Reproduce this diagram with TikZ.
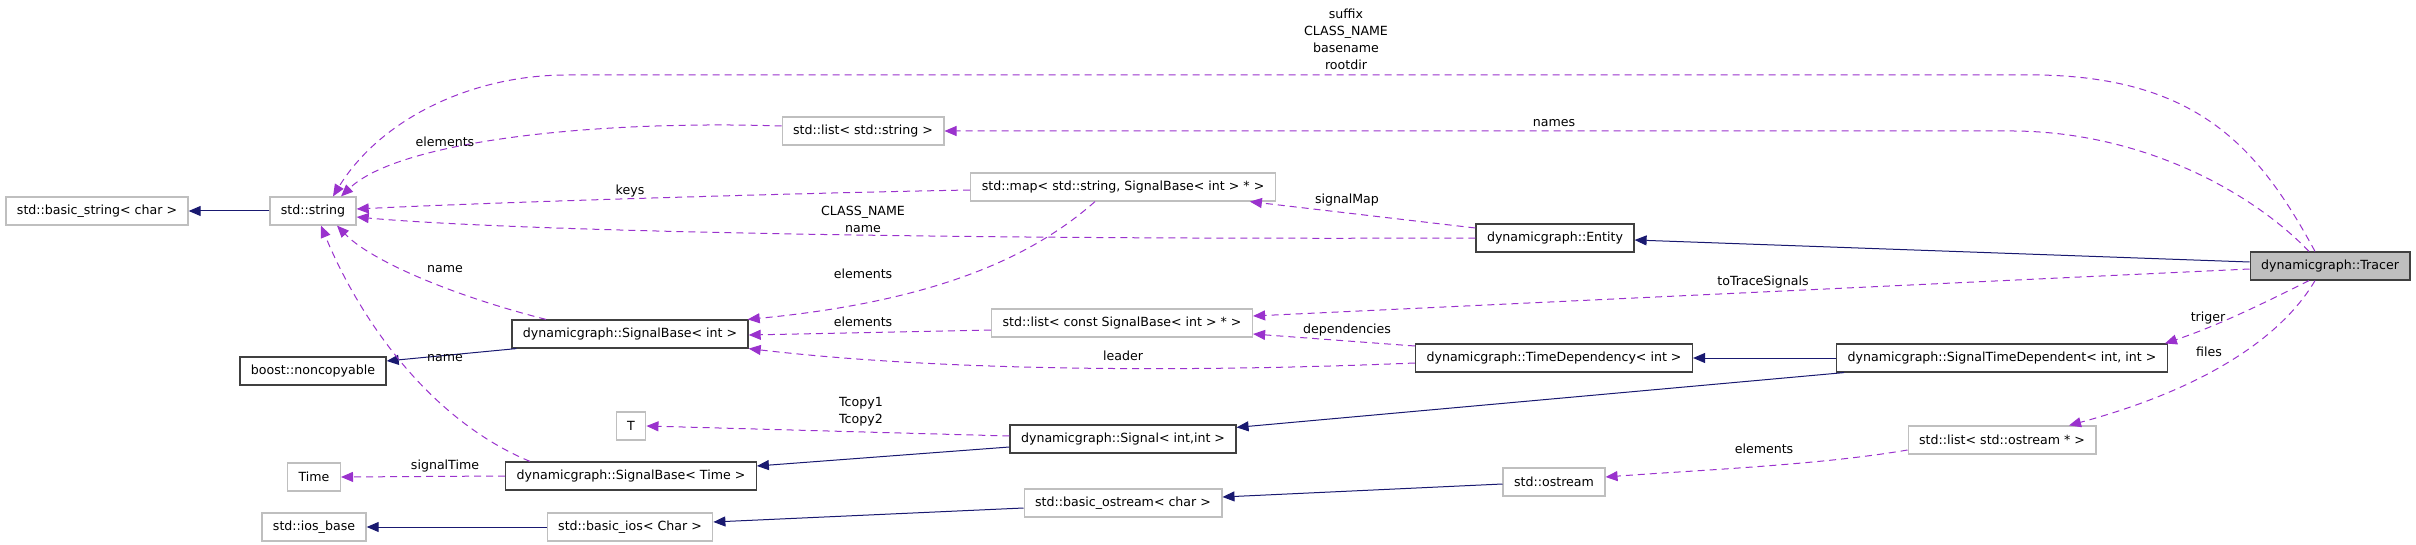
\documentclass[tikz,border=0pt]{standalone}
\usepackage{fontspec}
\setmainfont{DejaVu Sans}
\usetikzlibrary{arrows.meta}
\definecolor{inh}{HTML}{191970}
\definecolor{usec}{HTML}{9A32CD}
\definecolor{gbox}{HTML}{BFBFBF}
\definecolor{dbox}{HTML}{404040}
\tikzset{
 cls/.style={draw=dbox, line width=1.2pt, minimum height=28pt, inner xsep=11pt, inner ysep=0pt, font=\fontsize{12.6}{15}\selectfont, fill=white},
 ext/.style={cls, draw=gbox},
 inhe/.style={draw=inh, line width=1.0pt, -{Triangle[length=12pt,width=10pt]}},
 usee/.style={draw=usec, line width=1.0pt, dash pattern=on 7pt off 5pt, -{Triangle[length=12pt,width=10pt]}},
 lbl/.style={font=\fontsize{12.6}{17}\selectfont, align=center, inner sep=0pt}
}
\begin{document}
\begin{tikzpicture}[x=1pt,y=-1pt]
\useasboundingbox (0,0) rectangle (2416,545);
% nodes
\node[ext] (bstring) at (97,211) {std::basic\_string< char >};
\node[ext] (string) at (313,211) {std::string};
\node[ext] (liststring) at (863,131) {std::list< std::string >};
\node[ext] (map) at (1123,187) {std::map< std::string, SignalBase< int > * >};
\node[cls] (entity) at (1555,238) {dynamicgraph::Entity};
\node[cls, fill=gbox] (tracer) at (2330,266) {dynamicgraph::Tracer};
\node[cls] (sbint) at (630,334) {dynamicgraph::SignalBase< int >};
\node[cls] (noncopy) at (313,371) {boost::noncopyable};
\node[ext] (listconst) at (1122,323) {std::list< const SignalBase< int > * >};
\node[cls] (timedep) at (1554,358) {dynamicgraph::TimeDependency< int >};
\node[cls] (std) at (2002,358) {dynamicgraph::SignalTimeDependent< int, int >};
\node[ext] (T) at (631,426) {T};
\node[cls] (signal) at (1123,439) {dynamicgraph::Signal< int,int >};
\node[ext] (time) at (314,477) {Time};
\node[cls] (sbtime) at (631,476) {dynamicgraph::SignalBase< Time >};
\node[ext] (listos) at (2002,440) {std::list< std::ostream * >};
\node[ext] (ostream) at (1554,482) {std::ostream};
\node[ext] (bostream) at (1123,503) {std::basic\_ostream< char >};
\node[ext] (iosbase) at (314,527) {std::ios\_base};
\node[ext] (bios) at (630,527) {std::basic\_ios< Char >};

% inheritance
\draw[inhe] (string.west) -- (bstring.east);
\draw[inhe] ([xshift=5pt]sbint.south west) -- ([yshift=10pt]noncopy.east);
\draw[inhe] ([yshift=4pt]tracer.west) -- ([yshift=-2pt]entity.east);
\draw[inhe] (std.west) -- (timedep.east);
\draw[inhe] ([xshift=8pt]std.south west) -- ([yshift=-3pt]signal.north east);
\draw[inhe] ([yshift=-8pt]signal.west) -- ([yshift=10pt]sbtime.east);
\draw[inhe] ([yshift=-2pt]ostream.west) -- ([yshift=6pt]bostream.east);
\draw[inhe] ([yshift=-5pt]bostream.west) -- ([yshift=5pt]bios.east);
\draw[inhe] (bios.west) -- (iosbase.east);

% usage
\draw[usee] ([xshift=-15pt]tracer.north) .. controls (2260,150) and (2200,78) .. (2040,75) -- (567,75) .. controls (470,75) and (380,120) .. ([xshift=20pt]string.north);
\node[lbl] (l1) at (1346,39) {suffix\\CLASS\_NAME\\basename\\rootdir};

\draw[usee] ([xshift=-21pt]tracer.north) .. controls (2250,190) and (2140,132) .. (2014,131) -- (liststring.east);
\node[lbl] (l2) at (1554,123) {names};

\draw[usee] ([yshift=5pt]liststring.west) .. controls (600,120) and (400,140) .. ([xshift=28pt]string.north);
\node[lbl] (l3) at (445,142) {elements};

\draw[usee] ([yshift=-3pt]map.west) .. controls (800,193) and (500,202) .. ([yshift=2pt]string.east);
\node[lbl] (l4) at (630,191) {keys};

\draw[usee] (entity.west) .. controls (900,240) and (500,230) .. ([yshift=-6pt]string.east);
\node[lbl] (l5) at (863,219) {CLASS\_NAME\\name};

\draw[usee] ([yshift=10pt]entity.west) -- ([xshift=-26pt]map.south east);
\node[lbl] (l6) at (1347,200) {signalMap};

\draw[usee] ([xshift=-28pt]map.south) .. controls (1040,250) and (950,300) .. ([xshift=-1pt]sbint.north east);
\node[lbl] (l7) at (863,274) {elements};

\draw[usee] ([yshift=-7pt]listconst.west) -- ([yshift=-1pt]sbint.east);
\node[lbl] (l8) at (863,322) {elements};

\draw[usee] ([yshift=-5pt]timedep.west) .. controls (1200,372) and (950,372) .. (sbint.south east);
\node[lbl] (l9) at (1123,356) {leader};

\draw[usee] ([yshift=12pt]timedep.west) -- ([yshift=-11pt]listconst.east);
\node[lbl] (l10) at (1347,330) {dependencies};

\draw[usee] ([yshift=-3pt]tracer.west) -- ([yshift=7pt]listconst.east);
\node[lbl] (l11) at (1763,282) {toTraceSignals};

\draw[usee] ([xshift=-21pt]tracer.south) .. controls (2270,300) and (2220,325) .. ([xshift=-3pt]std.north east);
\node[lbl] (l12) at (2208,318) {triger};

\draw[usee] ([xshift=-15pt]tracer.south) .. controls (2280,340) and (2200,390) .. ([xshift=67pt]listos.north);
\node[lbl] (l13) at (2209,352) {files};

\draw[usee] ([yshift=-10pt]listos.west) .. controls (1820,465) and (1700,470) .. ([yshift=5pt]ostream.east);
\node[lbl] (l14) at (1764,449) {elements};

\draw[usee] ([yshift=3pt]signal.west) -- (T.east);
\node[lbl] (l15) at (861,412) {Tcopy1\\Tcopy2};

\draw[usee] ([xshift=-84pt]sbint.north) .. controls (450,295) and (370,260) .. ([xshift=24pt]string.south);
\node[lbl] (l16) at (445,269) {name};

\draw[usee] ([xshift=-101pt]sbtime.north) .. controls (430,420) and (360,320) .. ([xshift=8pt]string.south);
\node[lbl] (l17) at (445,358) {name};

\draw[usee] (sbtime.west) -- (time.east);
\node[lbl] (l18) at (445,466) {signalTime};
\end{tikzpicture}
\end{document}
